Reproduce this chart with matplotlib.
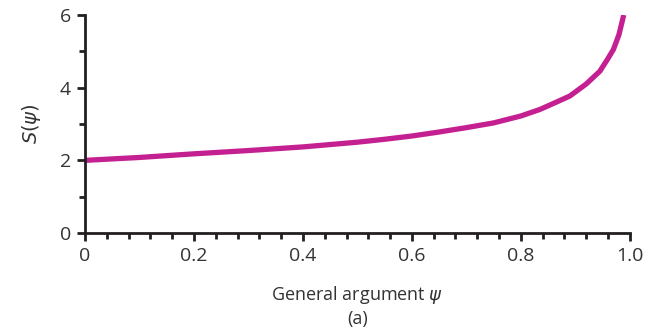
import matplotlib
matplotlib.use("Agg")
import matplotlib.pyplot as plt
from matplotlib.ticker import MultipleLocator

# valores
psi = [0.0, 0.1, 0.2, 0.3, 0.4, 0.5, 0.55, 0.6, 0.65, 0.7, 0.75, 0.8, 0.835,
       0.865, 0.89, 0.92, 0.945, 0.96, 0.97, 0.98, 0.989]
s_psi = [2.0, 2.08, 2.18, 2.27, 2.37, 2.5, 2.58, 2.67, 2.78, 2.9, 3.03, 3.22, 3.4,
         3.6, 3.77, 4.1, 4.45, 4.8, 5.05, 5.45, 6.0]

xticks = [0, 0.2, 0.4, 0.6, 0.8, 1.0]
xticklabels = ["0", "0.2", "0.4", "0.6", "0.8", "1.0"]
yticks = [0, 2, 4, 6]

plt.rcParams["font.family"] = ["Open Sans", "DejaVu Sans"]
text_color = "#333333"

fig = plt.figure(figsize=(6.65, 3.32), dpi=100)
ax = fig.add_axes([0.128, 0.298, 0.819, 0.657])

ax.plot(psi, s_psi, color="#C42091", lw=3.8, solid_capstyle="butt",
        solid_joinstyle="round")

ax.set_xlim(0, 1.0)
ax.set_ylim(0, 6)
ax.set_xticks(xticks)
ax.set_xticklabels(xticklabels)
ax.set_yticks(yticks)
ax.xaxis.set_minor_locator(MultipleLocator(0.04))
ax.yaxis.set_minor_locator(MultipleLocator(1))

for side in ["top", "right"]:
    ax.spines[side].set_visible(False)
for side in ["left", "bottom"]:
    ax.spines[side].set_linewidth(2)
    ax.spines[side].set_color("#231f20")

ax.tick_params(which="major", direction="out", length=6, width=2, color="#231f20",
               labelsize=14, labelcolor=text_color, pad=4)
ax.tick_params(which="minor", direction="out", length=4, width=2, color="#231f20")

ax.set_ylabel(r"$S(\psi)$", fontsize=14, color=text_color, labelpad=12)
ax.set_xlabel(r"General argument $\psi$" + "\n(a)", fontsize=13, color=text_color,
              labelpad=14, linespacing=1.25)

fig.savefig("out.png", dpi=100)
